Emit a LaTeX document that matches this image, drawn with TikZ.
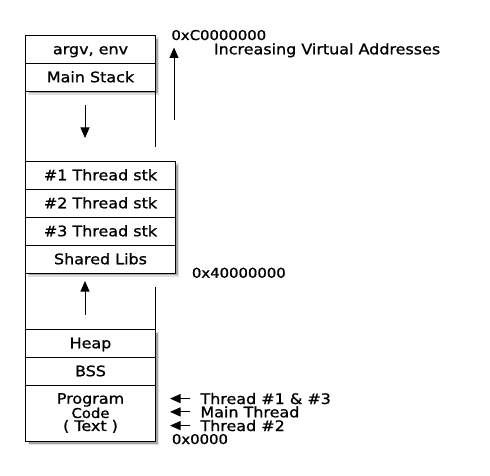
\documentclass[tikz,border=0pt]{standalone}
\usepackage{fontspec}
\usepackage{tikz}
\usetikzlibrary{positioning,arrows.meta}
\newfontfamily\dvsans[FakeStretch=1.1, FakeBold=1]{DejaVu Sans}

\begin{document}
\begin{tikzpicture}[x=1pt, y=-1pt, line width=0.9pt,
	seg/.style={draw, fill=white, outer sep=0pt, minimum width=130pt, minimum height=28pt, text height=10.5pt, text depth=0pt, font=\dvsans\fontsize{14.5}{13}\selectfont},
	wide/.style={minimum width=150pt},
	shade box/.style={fill=black!35, draw=black!12, line width=1.6pt},
	addr/.style={anchor=base west, inner sep=0pt, font=\dvsans\fontsize{13.5}{16}\selectfont},
	note/.style={anchor=base west, inner sep=0pt, font=\dvsans\fontsize{14.5}{16}\selectfont},
	ptr/.style={-{Triangle[length=10.5pt, width=9pt]}, line width=1pt}]
	\useasboundingbox (0,0) rectangle (490,476);

	% shadows behind the three blocks
	\fill[shade box] (28.5,38) rectangle (158.5,94);
	\fill[shade box] (28.5,164) rectangle (178.5,276);
	\fill[shade box] (28.5,332.5) rectangle (158.5,444.5);

	\node[seg](argv) at (90.5,49) {argv, env};
	\node[seg, below=0pt of argv](stack) {Main Stack};
	
	\node[seg, wide, below right=70pt and 0pt of stack.south west](t1) {\#1 Thread stk};
	\node[seg, wide, below=0pt of t1](t2) {\#2 Thread stk};
	\node[seg, wide, below=0pt of t2](t3) {\#3 Thread stk};
	\node[seg, wide, below=0pt of t3](libs) {Shared Libs};
	
	\node[seg, below right=56pt and 0pt of libs.south west](heap) {Heap};
	\node[seg, below=0pt of heap](bss) {BSS};
	\node[seg, below=0pt of bss, minimum height=56pt, text height={}, text depth={}, align=center](code) {Program\\{\fontsize{13.5}{13}\selectfont Code}\\( Text )};
	
	\node[addr](top addr) at (171,40) {0xC0000000};
	\node[note](incr) at (213.5,54.3) {Increasing Virtual Addresses};
	\node[addr](mid addr) at (191.5,277.7) {0x40000000};
	\node[note](thr13) at (200,404) {Thread \#1 \& \#3};
	\node[note](thrmain) at (200,417.3) {Main Thread};
	\node[note](thr2) at (200,431) {Thread \#2};
	\node[addr](low addr) at (171.5,444) {0x0000};
	
	\coordinate (gap top) at ([yshift=-56pt]stack.south east);
	\coordinate (gap low) at ([yshift=42pt]heap.north east);
	\coordinate (down a) at (85,105);
	\coordinate (down b) at (85,138);
	\coordinate (up a) at (85,315);
	\coordinate (up b) at (85,281);
	\coordinate (va a) at (174,120);
	\coordinate (va b) at (174,47.5);
	\coordinate (tip line) at (170,0);
	
	\draw (stack.south west) -- (t1.north west);
	\draw (stack.south east) -- (gap top);
	\draw (libs.south west) -- (heap.north west);
	\draw (gap low) -- (heap.north east);
	
	\draw[ptr] (down a) -- (down b);
	\draw[ptr] (up a) -- (up b);
	\draw[ptr] (va a) -- (va b);
	\draw[ptr] ([xshift=-10pt]thr13.west) -- (thr13.west -| tip line);
	\draw[ptr] ([xshift=-10pt]thrmain.west) -- (thrmain.west -| tip line);
	\draw[ptr] ([xshift=-10pt]thr2.west) -- (thr2.west -| tip line);
\end{tikzpicture}
\end{document}
